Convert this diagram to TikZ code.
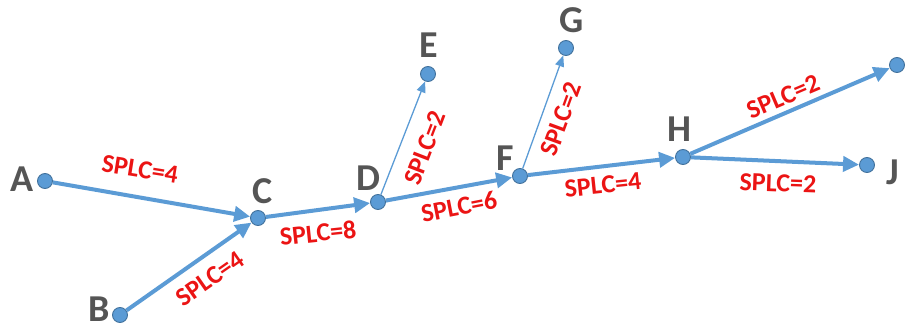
\documentclass[tikz,border=0pt]{standalone}
\usepackage{fontspec}
\setmainfont{Carlito}
\usetikzlibrary{arrows.meta}
\definecolor{edgeblue}{RGB}{91,155,213}
\definecolor{dotborder}{RGB}{65,113,156}
\definecolor{lettergray}{RGB}{85,85,85}
\definecolor{splcred}{RGB}{235,20,20}
\tikzset{
  vertex/.style={circle, fill=edgeblue, draw=dotborder, line width=0.9pt, minimum size=15pt, inner sep=0pt},
  letter/.style={text=lettergray, font=\fontsize{38}{38}\selectfont\bfseries, inner sep=0pt},
  splc/.style={text=splcred, font=\fontsize{26}{26}\selectfont\bfseries, inner sep=0pt},
  mainedge/.style={draw=edgeblue, line width=4pt, -{Triangle[length=16pt,width=15pt]}},
  sideedge/.style={draw=edgeblue, line width=1.3pt, -{Triangle[length=11pt,width=9pt]}}
}
\begin{document}
\begin{tikzpicture}[x=1pt,y=-1pt]
\useasboundingbox (0,0) rectangle (914,324);

% vertices
\node[vertex] (A) at (45,181) {};
\node[vertex] (B) at (120,315) {};
\node[vertex] (C) at (258,218) {};
\node[vertex] (D) at (378,202) {};
\node[vertex] (E) at (428,74) {};
\node[vertex] (F) at (520,176) {};
\node[vertex] (G) at (566,48) {};
\node[vertex] (H) at (683,157) {};
\node[vertex] (I) at (897,65) {};
\node[vertex] (J) at (867,165) {};

% vertex letters
\node[letter] (tA) at (22,179) {A};
\node[letter] (tB) at (99,309) {B};
\node[letter] (tC) at (263,191) {C};
\node[letter] (tD) at (368,178) {D};
\node[letter] (tE) at (429,45) {E};
\node[letter] (tF) at (505,158) {F};
\node[letter] (tG) at (572,20) {G};
\node[letter] (tH) at (679,129) {H};
\node[letter] (tJ) at (893,172) {J};

% flow edges
\draw[mainedge] (A) -- (C);
\draw[mainedge] (B) -- (C);
\draw[mainedge] (C) -- (D);
\draw[sideedge] (D) -- (E);
\draw[mainedge] (D) -- (F);
\draw[sideedge] (F) -- (G);
\draw[mainedge] (F) -- (H);
\draw[mainedge] (H) -- (I);
\draw[mainedge] (H) -- (J);

% edge weights
\node[splc, rotate=-9] (wAC) at (140,169) {SPLC=4};
\node[splc, rotate=35] (wBC) at (210,279) {SPLC=4};
\node[splc, rotate=6] (wCD) at (318,233) {SPLC=8};
\node[splc, rotate=69] (wDE) at (425,148) {SPLC=2};
\node[splc, rotate=11] (wDF) at (459,207) {SPLC=6};
\node[splc, rotate=70] (wFG) at (561,119) {SPLC=2};
\node[splc, rotate=6] (wFH) at (603,185) {SPLC=4};
\node[splc, rotate=23] (wHI) at (783,97) {SPLC=2};
\node[splc, rotate=-2] (wHJ) at (778,183) {SPLC=2};
\end{tikzpicture}
\end{document}
